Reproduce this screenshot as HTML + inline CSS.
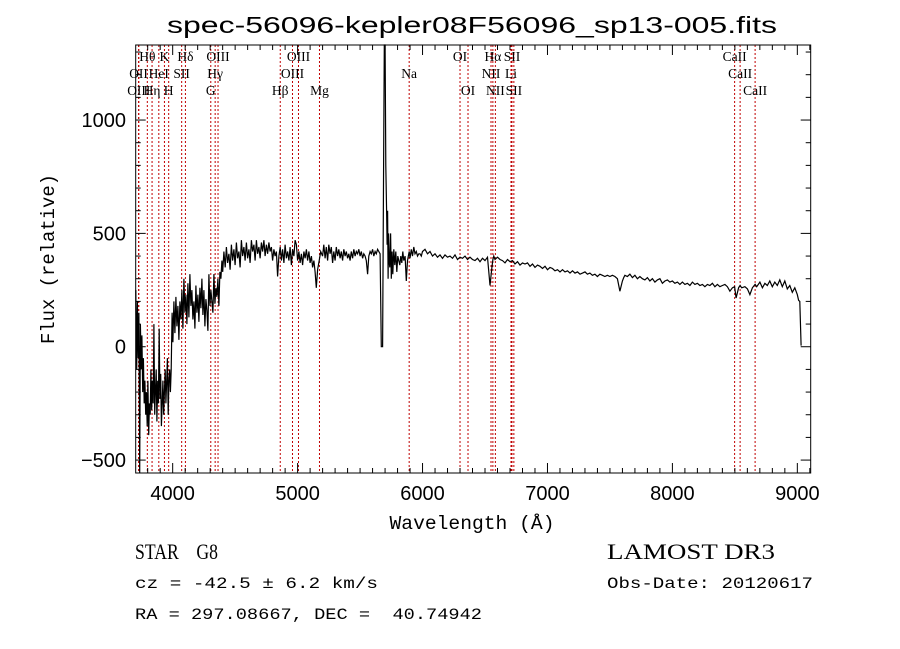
<!DOCTYPE html>
<html><head><meta charset="utf-8"><style>
html,body{margin:0;padding:0;background:#fff;}
svg{display:block;}
text{fill:#000;white-space:pre;}
</style></head><body>
<svg id="chart" width="900" height="649" viewBox="0 0 900 649" xmlns="http://www.w3.org/2000/svg" xml:space="preserve">
<rect x="0" y="0" width="900" height="649" fill="#fff"/>
<text x="472" y="33" text-anchor="middle" font-family="Liberation Sans, sans-serif" font-size="23" textLength="610" lengthAdjust="spacingAndGlyphs">spec-56096-kepler08F56096_sp13-005.fits</text>
<g id="lines"></g>
<g id="labels" font-family="Liberation Serif, serif" font-size="13.5"></g>
<path id="spec" fill="none" stroke="#000" stroke-width="1.2"/>
<g id="ticks" stroke="#000" stroke-width="1"></g>
<rect x="135.7" y="45" width="675" height="428" fill="none" stroke="#000" stroke-width="1"/>
<g id="xlabels" font-family="Liberation Sans, sans-serif" font-size="20" text-anchor="middle"></g>
<g id="ylabels" font-family="Liberation Sans, sans-serif" font-size="20" text-anchor="end"></g>
<text x="472" y="529" text-anchor="middle" font-family="Liberation Mono, monospace" font-size="19" textLength="165" lengthAdjust="spacingAndGlyphs">Wavelength (Å)</text>
<text transform="translate(54,259) rotate(-90)" text-anchor="middle" font-family="Liberation Mono, monospace" font-size="19" textLength="170" lengthAdjust="spacingAndGlyphs">Flux (relative)</text>
<text x="135" y="559" font-family="Liberation Serif, serif" font-size="22" textLength="83" lengthAdjust="spacingAndGlyphs">STAR    G8</text>
<text x="607" y="559" font-family="Liberation Serif, serif" font-size="22" textLength="168" lengthAdjust="spacingAndGlyphs">LAMOST DR3</text>
<text x="135" y="588" font-family="Liberation Mono, monospace" font-size="16" textLength="243" lengthAdjust="spacingAndGlyphs">cz = -42.5 ± 6.2 km/s</text>
<text x="607" y="588" font-family="Liberation Mono, monospace" font-size="16" textLength="206" lengthAdjust="spacingAndGlyphs">Obs-Date: 20120617</text>
<text x="135" y="619" font-family="Liberation Mono, monospace" font-size="16" textLength="347" lengthAdjust="spacingAndGlyphs">RA = 297.08667, DEC =  40.74942</text>
</svg>
<script>
const wave = [3705,3712,3718,3724,3730,3736,3742,3748,3754,3760,3766,3772,3778,3784,3790,3796,3802,3808,3814,3820,3826,3832,3838,3844,3850,3856,3862,3868,3874,3880,3886,3892,3898,3904,3910,3916,3922,3928,3934,3940,3946,3952,3958,3964,3970,3976,3982,3988,
3995,4002,4010,4018,4026,4034,4042,4050,4058,4066,4074,4082,4090,4098,4106,4114,4122,4130,4138,4146,4154,4162,4170,4178,4186,4194,4202,4210,4218,4226,4234,4242,4250,4258,4266,4274,4282,4290,4298,4306,4314,4322,4330,4338,4346,4354,4362,4370,4378,4386,4394,
4400,4410,4420,4430,4440,4450,4460,4470,4480,4490,4500,4510,4520,4530,4540,4550,4560,4570,4580,4590,4600,4610,4620,4630,4640,4650,4660,4670,4680,4690,4700,4710,4720,4730,4740,4750,4760,4770,4780,4790,4800,4810,4820,4830,4840,4850,4861,4870,
4880,4890,4900,4910,4920,4930,4940,4950,4960,4970,4980,4990,5000,5010,5020,5030,5040,5050,5060,5070,5080,5090,5100,5110,5120,5130,5140,5150,5160,5173,5185,5200,5210,5220,5230,5240,5250,5260,5270,5280,5290,5300,5310,5320,5330,5340,5350,5360,5370,5380,5390,5400,5410,5420,5430,5440,5450,5460,5470,5480,5490,5500,5510,5520,5530,5540,5550,5560,5570,5580,5590,5600,5610,5620,5630,5640,5650,5660,5670,5680,5688,5694,5700,5706,5712,5716,5720,5724,5728,5732,5738,5744,5750,5756,5762,5770,5778,5786,5794,5802,5810,5818,5826,5834,5842,5850,5860,5870,5880,5893,5900,5910,5920,5930,5940,5950,5960,5970,5980,5990,
6000,6020,6040,6060,6080,6100,6120,6140,6160,6180,6200,6220,6240,6260,6280,6300,6320,6340,6360,6380,6400,6420,6440,6460,6480,6500,6520,6540,6555,6563,6570,6580,6600,6620,6640,6660,6680,6700,6720,6740,6760,6780,6800,6820,6840,6860,6880,6900,6920,6940,6960,6980,7000,7020,7040,7060,7080,7100,7120,7140,7160,7180,7200,7220,7240,7260,7280,7300,7320,7340,7360,7380,7400,7420,7440,7460,7480,7500,7520,7540,7560,7580,7600,7610,7620,7640,7660,7680,7700,7720,7740,7760,7780,7800,7820,7840,7860,7880,7900,7920,7940,7960,7980,8000,8020,8040,8060,8080,8100,8120,8140,8160,8180,8200,8220,8240,8260,8280,8300,8320,8340,8360,8380,8400,8420,8440,8460,8480,8498,8510,8530,8542,8555,8580,8600,8620,8640,8662,8675,8700,8720,8740,8760,8780,8800,8820,8840,8860,8880,8900,8920,8940,8960,8980,9000,9010,9020,9030,9040,9041];
const flux = [250,-100,200,-50,150,-560,100,-100,50,-200,-50,-250,-150,-300,-200,-350,-150,-390,-250,-300,-100,-280,-150,-250,100,-300,-200,-100,-330,-150,-250,80,-230,-120,-350,-250,-150,-300,-200,-100,-250,-150,-50,-300,-150,-100,-200,-100,
150,20,200,60,220,90,180,30,200,120,250,80,300,150,230,100,280,130,320,180,250,120,200,80,270,150,230,110,260,170,300,140,250,90,210,160,70,320,180,250,200,150,320,190,260,220,300,180,330,
300,380,330,420,350,440,370,410,340,450,380,430,360,460,390,420,350,470,400,440,380,460,390,430,370,470,420,450,380,470,410,440,390,460,420,470,400,450,410,460,420,440,380,430,400,420,310,400,
440,380,430,370,450,390,420,380,440,360,430,400,470,450,380,420,370,410,360,420,390,430,380,420,370,400,350,380,330,260,340,380,420,400,450,390,440,380,450,410,440,370,420,380,440,400,430,390,420,380,430,400,420,390,410,380,420,390,430,400,420,410,430,400,420,390,410,400,380,320,400,420,410,430,400,420,410,430,420,410,0,0,800,1400,1400,800,600,450,600,300,500,380,350,500,300,420,320,430,360,420,330,400,380,360,400,370,420,380,400,290,380,420,390,430,400,440,410,420,400,410,
410,400,420,430,410,420,400,410,395,405,390,405,395,400,390,405,385,395,390,400,385,395,385,380,390,375,390,380,395,270,350,385,400,385,395,385,380,370,385,375,380,365,375,360,370,365,370,355,365,350,360,355,345,355,340,350,345,335,340,330,340,330,335,325,335,325,330,320,325,330,320,325,315,320,310,320,315,310,315,310,315,310,300,245,290,305,315,310,320,305,315,300,310,300,295,305,290,300,285,295,300,280,290,295,285,290,280,285,275,285,275,280,270,285,275,280,270,275,265,275,270,280,265,275,265,270,275,265,245,260,265,215,260,270,260,265,255,230,260,275,265,285,260,280,270,290,265,285,270,295,265,290,255,270,240,260,230,205,200,5];
const xTicks = [4000,5000,6000,7000,8000,9000];
const yTicks = [-500,0,500,1000];
const lineWave = [3727,3729,3797,3835,3889,3934,3968,4072,4102,4305,4340,4363,4861,4959,5007,5175,5893,6300,6364,6548,6563,6583,6708,6716,6731,8498,8542,8662];
const lineText = ["OII","OIII","Hθ","Hη","HeI","K","H","SII","Hδ","G","Hγ","OIII","Hβ","OIII","OIII","Mg","Na","OI","OI","NII","Hα","NII","Li","SII","SII","CaII","CaII","CaII"];
const lineRow = [1,2,0,2,1,0,2,1,0,2,1,0,2,1,0,2,1,0,2,1,0,2,1,0,2,0,1,2];

const X0=135.7,X1=810.7,Y0=45,Y1=473;
const WMIN=3704,WMAX=9107,FMIN=-557,FMAX=1331;
function xs(w){return X0+(w-WMIN)/(WMAX-WMIN)*(X1-X0);}
function ys(f){return Y1-(f-FMIN)/(FMAX-FMIN)*(Y1-Y0);}
const NS='http://www.w3.org/2000/svg';
function mk(tag,attrs,parent){const e=document.createElementNS(NS,tag);for(const k in attrs)e.setAttribute(k,attrs[k]);parent.appendChild(e);return e;}

let d='';
for(let i=0;i<wave.length;i++){
  let y=Math.max(Y0,Math.min(Y1,ys(flux[i])));
  d+=(i?'L':'M')+xs(wave[i]).toFixed(1)+' '+y.toFixed(1);
}
document.getElementById('spec').setAttribute('d',d);

const gl=document.getElementById('lines'), glab=document.getElementById('labels');
const rowY=[61,78,95];
for(let i=0;i<lineWave.length;i++){
  const x=xs(lineWave[i]);
  const ln=mk('line',{x1:x,x2:x,y1:Y0,y2:Y1,stroke:'#c00000','stroke-width':1,'stroke-dasharray':'2,2'},gl);
  
  
  const t=mk('text',{x:x,y:rowY[lineRow[i]],'text-anchor':'middle'},glab);
  t.textContent=lineText[i];
  
  
}

const gt=document.getElementById('ticks');
for(let w=3800;w<=9100;w+=100){
  const x=xs(w), major=(w%1000===0), L=major?10:5;
  mk('line',{x1:x,x2:x,y1:Y1,y2:Y1-L},gt);
  mk('line',{x1:x,x2:x,y1:Y0,y2:Y0+L},gt);
}
for(let f=-500;f<=1300;f+=100){
  const y=ys(f), major=(f%500===0), L=major?10:5;
  mk('line',{x1:X0,x2:X0+L,y1:y,y2:y},gt);
  mk('line',{x1:X1,x2:X1-L,y1:y,y2:y},gt);
}
const gx=document.getElementById('xlabels');
xTicks.forEach(v=>{const t=mk('text',{x:xs(v),y:500},gx);t.textContent=v;
  
  });
const gy=document.getElementById('ylabels');
yTicks.forEach(v=>{const t=mk('text',{x:126,y:ys(v)+7},gy);t.textContent=(v<0?'−':'')+Math.abs(v);
  
  });
</script>
</body></html>
